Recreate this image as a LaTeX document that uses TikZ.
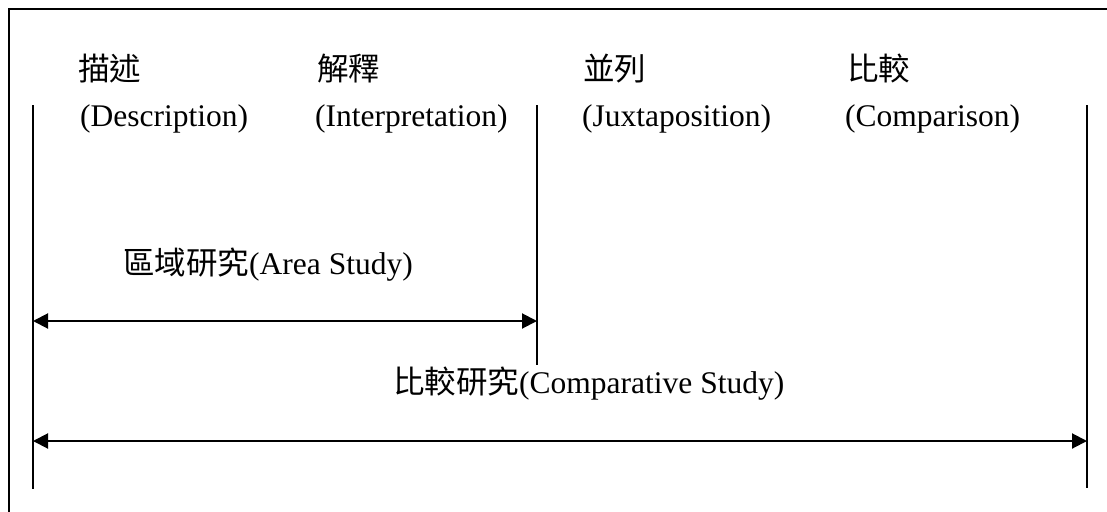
\documentclass[tikz,border=0pt]{standalone}
\usepackage{fontspec}
\setmainfont{Liberation Serif}
\newfontfamily\cjk{Noto Sans CJK TC}
\usetikzlibrary{arrows.meta}
\begin{document}
\begin{tikzpicture}[x=1pt,y=-1pt,
  lbl/.style={anchor=base west,inner sep=0pt,font=\fontsize{31.5}{36}\selectfont},
  vline/.style={line width=2pt,black},
  span/.style={line width=2pt,{Triangle[length=15pt,width=15pt]}-{Triangle[length=15pt,width=15pt]}}]
\useasboundingbox (0,0) rectangle (1107,511);
\begin{scope}
\clip (0,0) rectangle (1107,511);
\draw[line width=2pt] (9,9) rectangle (1130,540);
\end{scope}
% vertical dividers
\coordinate (Lt) at (33,105); \coordinate (Lb) at (33,489);
\coordinate (Mt) at (537,105); \coordinate (Mb) at (537,365);
\coordinate (Rt) at (1087,105); \coordinate (Rb) at (1087,488);
\draw[vline] (Lt) -- (Lb);
\draw[vline] (Mt) -- (Mb);
\draw[vline] (Rt) -- (Rb);
% arrow ends
\coordinate (a1l) at (33,321); \coordinate (a1r) at (537,321);
\coordinate (a2l) at (33,441); \coordinate (a2r) at (1087,441);
\draw[span] (a1l) -- (a1r);
\draw[span] (a2l) -- (a2r);
% column headings
\node[lbl] (c1) at (78,80) {\cjk 描述};
\node[lbl] (e1) at (80,126) {(Description)};
\node[lbl] (c2) at (317,80) {\cjk 解釋};
\node[lbl] (e2) at (315,126) {(Interpretation)};
\node[lbl] (c3) at (583,80) {\cjk 並列};
\node[lbl] (e3) at (582,126) {(Juxtaposition)};
\node[lbl] (c4) at (847,80) {\cjk 比較};
\node[lbl] (e4) at (845,126) {(Comparison)};
% span labels
\node[lbl] (area) at (123,274) {{\cjk 區域研究}(Area Study)};
\node[lbl] (comp) at (393,393) {{\cjk 比較研究}(Comparative Study)};
\end{tikzpicture}
\end{document}
